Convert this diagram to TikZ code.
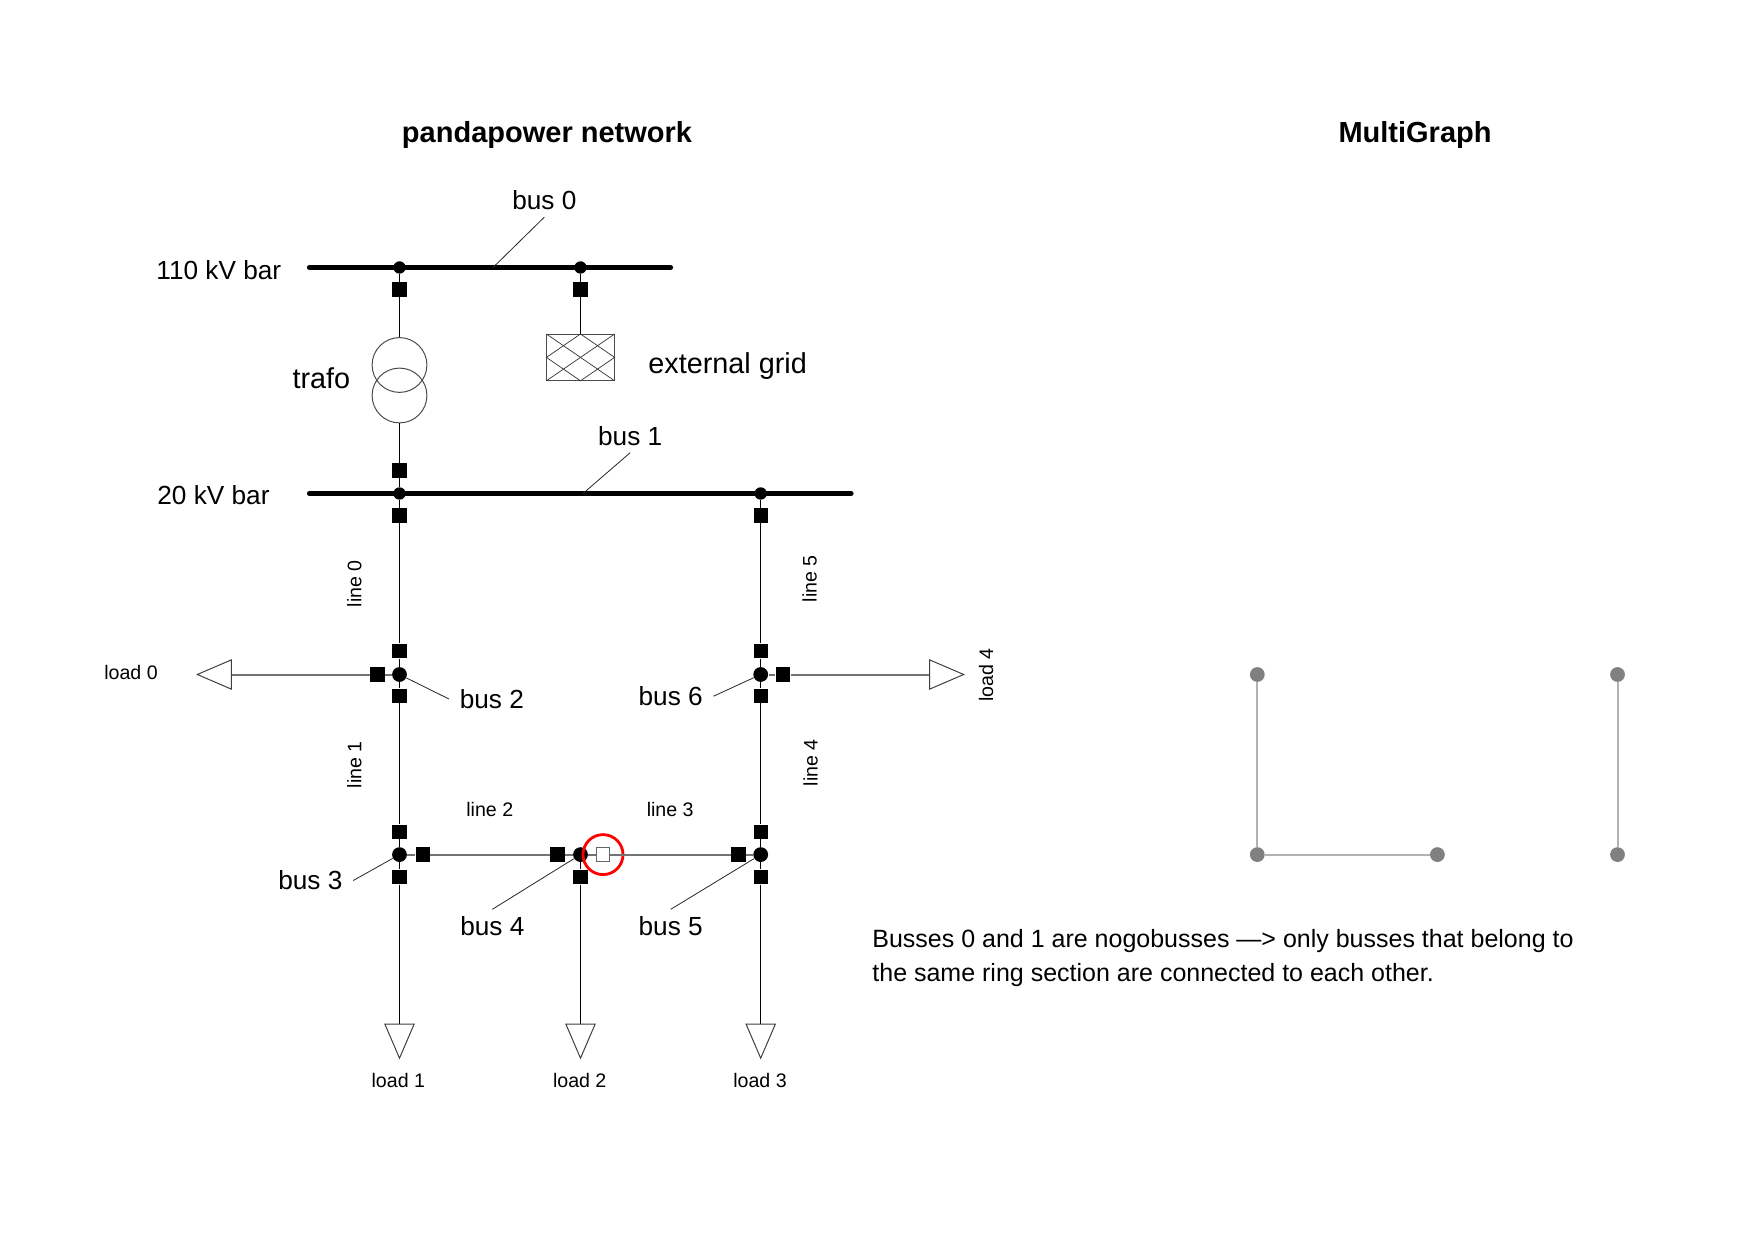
\documentclass[tikz,border=0pt]{standalone}
\usepackage{fontspec}
\setmainfont{Liberation Sans}
\usetikzlibrary{shapes.geometric}
\tikzset{
  busdot/.style={circle,fill=black,inner sep=0pt,minimum size=7.4pt},
  bardot/.style={circle,fill=black,inner sep=0pt,minimum size=6.2pt},
  swbox/.style={rectangle,fill=black,inner sep=0pt,minimum size=7.2pt},
  swopen/.style={rectangle,draw=black!60,fill=white,line width=0.6pt,inner sep=0pt,minimum size=6.8pt},
  loadtri/.style={isosceles triangle,isosceles triangle stretches,draw=black!75,fill=white,line width=0.5pt,inner sep=0pt,minimum width=14.6pt,minimum height=17pt},
  conn/.style={line width=0.55pt,black},
  hconn/.style={line width=1pt,black!55},
  leader/.style={line width=0.4pt,black!85},
  busbar/.style={line width=2.6pt,line cap=round,black},
  gnode/.style={circle,fill=black!50,inner sep=0pt,minimum size=7.4pt},
  gedge/.style={line width=1pt,black!30},
  titletxt/.style={font=\fontsize{14.5}{17}\selectfont\bfseries},
  bigtxt/.style={font=\fontsize{14.4}{17}\selectfont},
  bustxt/.style={font=\fontsize{13.1}{16}\selectfont,inner xsep=5.2pt},
  smalltxt/.style={font=\fontsize{9.8}{12}\selectfont},
}
\begin{document}
\begin{tikzpicture}[x=0.5pt,y=-0.5pt]
  \useasboundingbox (0,0) rectangle (1754,1240);
  \node[titletxt] (title1) at (547,135) {pandapower network};
  \node[titletxt] (title2) at (1415,135) {MultiGraph};

  % bars
  \coordinate (bar0l) at (309.5,267.5);
  \coordinate (bar0r) at (670.5,267.5);
  \coordinate (bar1l) at (309.5,493.5);
  \coordinate (bar1r) at (851,493.5);
  \draw[busbar] (bar0l) -- (bar0r);
  \draw[busbar] (bar1l) -- (bar1r);
  \node[bardot] (d0a) at (399.5,267.5) {};
  \node[bardot] (d0b) at (580.5,267.5) {};
  \node[bardot] (d1a) at (399.5,493.5) {};
  \node[bardot] (d1b) at (760.7,493.5) {};

  \node[busdot] (bus2) at (399.5,674.5) {};
  \node[busdot] (bus3) at (399.5,854.6) {};
  \node[busdot] (bus4) at (580.5,854.6) {};
  \node[busdot] (bus5) at (760.7,854.6) {};
  \node[busdot] (bus6) at (760.7,674.5) {};

  % switches
  \node[swbox] (s0a) at (399.5,289.5) {};
  \node[swbox] (s0b) at (580.5,289.5) {};
  \node[swbox] (s1a) at (399.5,470.5) {};
  \node[swbox] (s1b) at (399.5,515.5) {};
  \node[swbox] (s1c) at (760.7,515.5) {};
  \node[swbox] (s2u) at (399.5,651) {};
  \node[swbox] (s2d) at (399.5,695.8) {};
  \node[swbox] (s2l) at (377.5,674.5) {};
  \node[swbox] (s6u) at (760.7,651) {};
  \node[swbox] (s6d) at (760.7,695.8) {};
  \node[swbox] (s6r) at (783,674.5) {};
  \node[swbox] (s3u) at (399.5,831.7) {};
  \node[swbox] (s3d) at (399.5,877) {};
  \node[swbox] (s3r) at (422.8,854.6) {};
  \node[swbox] (s4l) at (557.6,854.6) {};
  \node[swbox] (s4d) at (580.5,877) {};
  \node[swbox] (s5l) at (738.3,854.6) {};
  \node[swbox] (s5u) at (760.7,831.7) {};
  \node[swbox] (s5d) at (760.7,877) {};
  \node[swopen] (s4r) at (603,854.6) {};
  \node[circle,draw=red,line width=1.4pt,inner sep=0pt,minimum size=20pt] (ring) at (603,854.6) {};

  % trafo and ext grid
  \node[circle,draw=black!70,line width=0.5pt,inner sep=0pt,minimum size=27.4pt] (tr1) at (399.5,365) {};
  \node[circle,draw=black!70,line width=0.5pt,inner sep=0pt,minimum size=27.4pt] (tr2) at (399.5,395.5) {};
  \node[rectangle,draw=black!70,line width=0.5pt,inner sep=0pt,minimum width=33.6pt,minimum height=22.9pt] (ext) at (580.5,357.4) {};
  \draw[line width=0.35pt,black!80] (ext.north west) -- (ext.south east);
  \draw[line width=0.35pt,black!80] (ext.north east) -- (ext.south west);
  \draw[line width=0.35pt,black!80] (ext.north) -- (ext.east) -- (ext.south) -- (ext.west) -- cycle;

  % loads
  \node[loadtri,shape border rotate=180,anchor=apex] (load0) at (196,674.5) {};
  \node[loadtri,shape border rotate=-90,anchor=apex] (load1) at (399.5,1059.5) {};
  \node[loadtri,shape border rotate=-90,anchor=apex] (load2) at (580.5,1059.5) {};
  \node[loadtri,shape border rotate=-90,anchor=apex] (load3) at (760.7,1059.5) {};
  \node[loadtri,anchor=apex] (load4) at (965,674.5) {};

  % lines
  \draw[conn] (d0a) -- (s0a);
  \draw[conn] (d0b) -- (s0b);
  \draw[conn] (s0a) -- (tr1);
  \draw[conn] (s0b) -- (ext);
  \draw[conn] (tr2) -- (s1a);
  \draw[conn] (s1a) -- (d1a);
  \draw[conn] (d1a) -- (s1b);
  \draw[conn] (d1b) -- (s1c);
  \draw[conn] (s1b) -- (s2u);
  \draw[conn] (s2u) -- (bus2);
  \draw[conn] (bus2) -- (s2d);
  \draw[conn] (s2d) -- (s3u);
  \draw[conn] (s3u) -- (bus3);
  \draw[conn] (bus3) -- (s3d);
  \draw[conn] (s3d) -- (load1.lower side);
  \draw[conn] (bus4) -- (s4d);
  \draw[conn] (s4d) -- (load2.lower side);
  \draw[conn] (s1c) -- (s6u);
  \draw[conn] (s6u) -- (bus6);
  \draw[conn] (bus6) -- (s6d);
  \draw[conn] (s6d) -- (s5u);
  \draw[conn] (s5u) -- (bus5);
  \draw[conn] (bus5) -- (s5d);
  \draw[conn] (s5d) -- (load3.lower side);
  \draw[hconn] (bus2) -- (s2l);
  \draw[hconn] (s2l) -- (load0.lower side);
  \draw[hconn] (bus6) -- (s6r);
  \draw[hconn] (s6r) -- (load4.lower side);
  \draw[hconn] (bus3) -- (s3r);
  \draw[hconn] (s3r) -- (s4l);
  \draw[hconn] (s4l) -- (bus4);
  \draw[hconn] (bus4) -- (s4r);
  \draw[hconn] (s4r) -- (s5l);
  \draw[hconn] (s5l) -- (bus5);

  % labels
  \node[bustxt] (lab110) at (218.8,270) {110 kV bar};
  \node[bustxt] (lab20) at (213.5,494.8) {20 kV bar};
  \node[bigtxt] (labtr) at (321.4,377.8) {trafo};
  \node[bigtxt] (labext) at (727.6,366) {external grid};
  \node[bustxt] (lb0) at (544.3,200.5) {bus 0};
  \node[bustxt] (lb1) at (630.2,436) {bus 1};
  \node[bustxt] (lb2) at (491.8,699) {bus 2};
  \node[bustxt] (lb3) at (310.4,880.5) {bus 3};
  \node[bustxt] (lb4) at (492.3,926) {bus 4};
  \node[bustxt] (lb5) at (670.7,926) {bus 5};
  \node[bustxt] (lb6) at (670.7,696.2) {bus 6};
  \coordinate (tip0) at (493,267.5);
  \coordinate (tip1) at (583,493.5);
  \draw[leader] (lb0.south) -- (tip0);
  \draw[leader] (lb1.south) -- (tip1);
  \draw[leader] (bus2) -- (lb2.west);
  \draw[leader] (bus3) -- (lb3.east);
  \draw[leader] (bus4) -- (lb4.north);
  \draw[leader] (bus5) -- (lb5.north);
  \draw[leader] (bus6) -- (lb6.east);
  \node[smalltxt] (ll0) at (131,672.6) {load 0};
  \node[smalltxt] (ll1) at (398.3,1080.5) {load 1};
  \node[smalltxt] (ll2) at (579.7,1080.5) {load 2};
  \node[smalltxt] (ll3) at (760,1080.5) {load 3};
  \node[smalltxt,rotate=90] (ll4) at (986,675) {load 4};
  \node[smalltxt,rotate=90] (ln0) at (354.3,583.8) {line 0};
  \node[smalltxt,rotate=90] (ln1) at (354.3,764.7) {line 1};
  \node[smalltxt] (ln2) at (489.8,809) {line 2};
  \node[smalltxt] (ln3) at (670.2,809) {line 3};
  \node[smalltxt,rotate=90] (ln4) at (810.5,762.7) {line 4};
  \node[smalltxt,rotate=90] (ln5) at (809.5,578.8) {line 5};

  % multigraph
  \node[gnode] (g2) at (1257.3,674.5) {};
  \node[gnode] (g3) at (1257.3,854.6) {};
  \node[gnode] (g4) at (1437.4,854.6) {};
  \node[gnode] (g6) at (1617.5,674.5) {};
  \node[gnode] (g5) at (1617.5,854.6) {};
  \draw[gedge] (g2) -- (g3);
  \draw[gedge] (g3) -- (g4);
  \draw[gedge] (g6) -- (g5);

  \node[font=\fontsize{12.5}{17}\selectfont,align=left,anchor=west,inner sep=0pt] (note) at (872,957.8) {Busses 0 and 1 are nogobusses —> only busses that belong to\\the same ring section are connected to each other.};
\end{tikzpicture}
\end{document}
